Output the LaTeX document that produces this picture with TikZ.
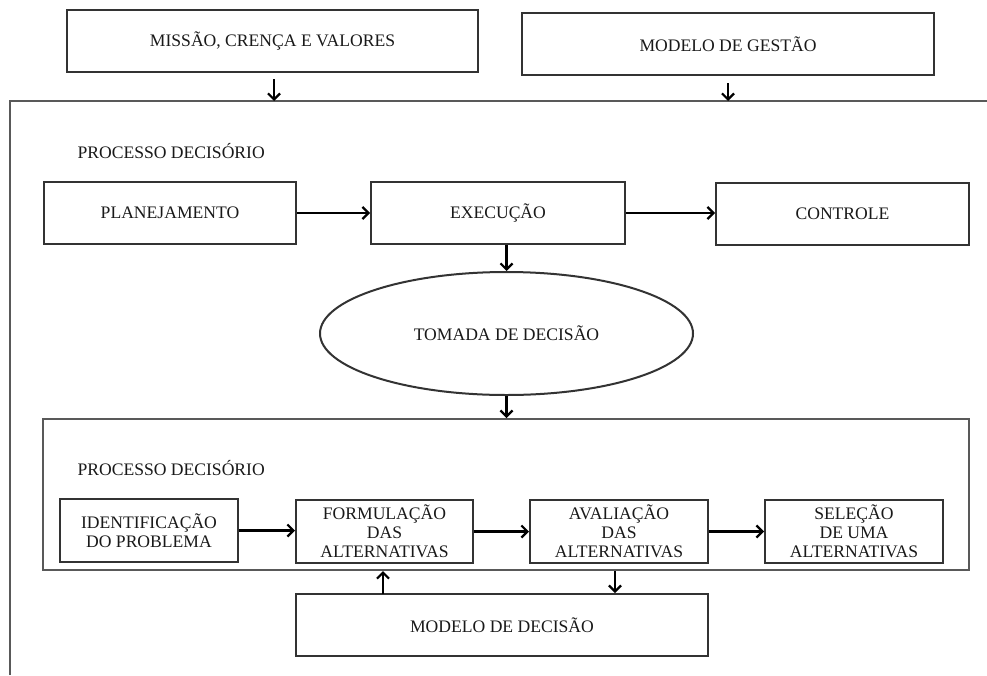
\documentclass[tikz,border=0pt]{standalone}
\usepackage{fontspec}
\setmainfont{Liberation Serif}
\usetikzlibrary{arrows.meta,shapes.geometric,calc}
\begin{document}
\begin{tikzpicture}[x=1pt,y=-1pt,
  txt/.style={font=\fontsize{17.6}{19}\selectfont, text=black!90},
  box/.style={txt, draw=black!80, line width=2pt, inner sep=0pt, align=center},
  arr/.style={line width=2.4pt, -{Straight Barb[length=6pt,width=12pt,line width=2.2pt]}},
  frame/.style={draw=black!65, line width=2pt}
]
\useasboundingbox (0,0) rectangle (987,675);
% top boxes
\node[box, minimum width=411, minimum height=62] (mis) at (272.5,41) {MISSÃO, CRENÇA E VALORES};
\node[box, minimum width=412, minimum height=62] (mg) at (728,44) {MODELO DE GESTÃO};
% outer frame
\coordinate (fbl) at (10,675);
\coordinate (ftl) at (10,101);
\coordinate (ftr) at (987,101);
\draw[frame] (fbl) -- (ftl) -- (ftr);
\coordinate (a1) at (274,101);
\coordinate (a2) at (728,101);
\draw[arr, shorten <=6pt] (mis.south -| a1) -- (a1);
\draw[arr, shorten <=7pt] (mg.south -| a2) -- (a2);
% upper process
\node[txt, anchor=west] (pd1) at (74,151) {PROCESSO DECISÓRIO};
\node[box, minimum width=252, minimum height=62] (plan) at (170,213) {PLANEJAMENTO};
\node[box, minimum width=254, minimum height=62] (exec) at (498,213) {EXECUÇÃO};
\node[box, minimum width=253, minimum height=62] (ctrl) at (842.5,214) {CONTROLE};
\draw[arr] (plan.east) -- (plan.east -| exec.west);
\draw[arr] (exec.east) -- (exec.east -| ctrl.west);
\node[txt, draw=black!80, line width=2pt, ellipse, inner sep=0pt, minimum width=373, minimum height=123] (td) at (506.5,333.5) {TOMADA DE DECISÃO};
\draw[arr] (td.north |- exec.south) -- (td.north);
% inner box
\node[draw=black!65, line width=2pt, minimum width=926, minimum height=151, inner sep=0pt] (inner) at (506,494.5) {};
\draw[arr] (td.south) -- (td.south |- inner.north);
\node[txt, anchor=west] (pd2) at (74,468) {PROCESSO DECISÓRIO};
\node[box, minimum width=178, minimum height=63] (iden) at (149,530.5) {IDENTIFICAÇÃO\\DO PROBLEMA};
\node[box, minimum width=177, minimum height=63] (form) at (384.5,531.5) {FORMULAÇÃO\\DAS\\ALTERNATIVAS};
\node[box, minimum width=178, minimum height=63] (aval) at (619,531.5) {AVALIAÇÃO\\DAS\\ALTERNATIVAS};
\node[box, minimum width=178, minimum height=63] (sel) at (854,531.5) {SELEÇÃO\\DE UMA\\ALTERNATIVAS};
\draw[arr] (iden.east) -- (iden.east -| form.west);
\draw[arr] (form.east) -- (form.east -| aval.west);
\draw[arr] (aval.east) -- (aval.east -| sel.west);
\node[box, minimum width=412, minimum height=62] (md) at (502,625) {MODELO DE DECISÃO};
\coordinate (up) at (383,594);
\coordinate (dn) at (615,571);
\draw[arr] (up) -- (up |- inner.south);
\draw[arr] (dn) -- (dn |- md.north);
\end{tikzpicture}
\end{document}
